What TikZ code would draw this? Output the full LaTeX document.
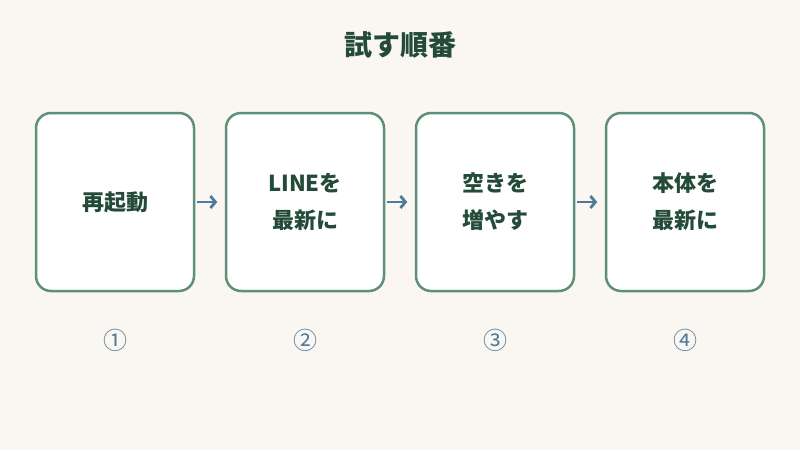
\documentclass[tikz,border=0pt]{standalone}
\usepackage{fontspec}
\setmainfont{Noto Sans CJK JP}
\usetikzlibrary{arrows.meta}
\usetikzlibrary{positioning}
\definecolor{bgcream}{HTML}{FAF7F2}
\definecolor{stepline}{HTML}{5E8F78}
\definecolor{steptext}{HTML}{244A3A}
\definecolor{arrowblue}{HTML}{4F7A99}

\begin{document}
\begin{tikzpicture}[x=1pt, y=-1pt,
  stepbox/.style={draw=stepline, line width=2.5pt, fill=white, rounded corners=15pt,
    minimum width=158pt, minimum height=178pt, text=steptext, align=center,
    font=\bfseries\fontsize{22}{37}\selectfont},
  next/.style={draw=arrowblue, line width=2.8pt, -{Straight Barb[length=5pt, width=12pt]}},
  order/.style={text=arrowblue, font=\fontsize{24}{26}\selectfont}]

  \fill[bgcream] (0,0) rectangle (800,450);
  \useasboundingbox (0,0) rectangle (800,450);

  % title
  \node[text=steptext, font=\bfseries\fontsize{28}{32}\selectfont] (title) at (400,45) {試す順番};

  % steps
  \node[stepbox] (s1) at (115,202) {再起動};
  \node[stepbox] (s2) at (305,202) {LINEを\\最新に};
  \node[stepbox] (s3) at (495,202) {空きを\\増やす};
  \node[stepbox] (s4) at (685,202) {本体を\\最新に};

  % arrows
  \draw[next] (s1.east) ++(2,0) coordinate (a1) -- ++(20,0);
  \draw[next] (s2.east) ++(2,0) coordinate (a2) -- ++(20,0);
  \draw[next] (s3.east) ++(2,0) coordinate (a3) -- ++(20,0);

  % numbers
  \node[order] (n1) at (115,340) {①};
  \node[order] (n2) at (305,340) {②};
  \node[order] (n3) at (495,340) {③};
  \node[order] (n4) at (685,340) {④};

\end{tikzpicture}
\end{document}
